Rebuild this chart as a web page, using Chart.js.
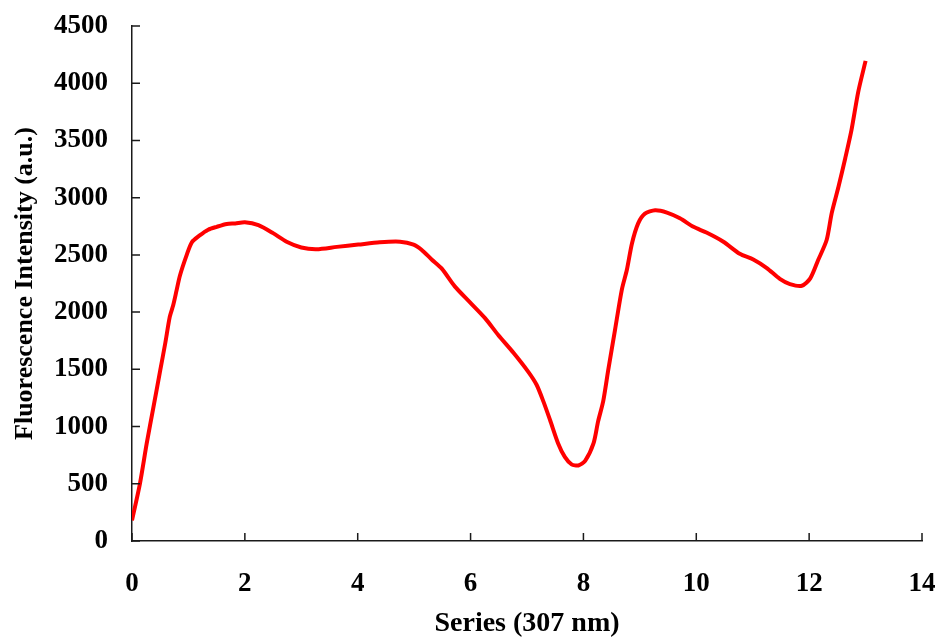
<!DOCTYPE html>
<html>
<head>
<meta charset="utf-8">
<script src="https://cdn.jsdelivr.net/npm/chart.js@4/dist/chart.umd.min.js"></script>
<style>
  body { margin: 0; background: #fff; }
  canvas { display: block; }
</style>
</head>
<body>
<canvas id="spectrumChart" width="943" height="638"></canvas>
<script>
// Fluorescence readings along the series (307 nm excitation)
const seriesX = [0, 0.14, 0.26, 0.38, 0.5, 0.59, 0.67, 0.73, 0.79, 0.85, 0.97, 1.06, 1.2, 1.35, 1.5, 1.68, 1.83, 2.0,
  2.24, 2.5, 2.74, 3.0, 3.27, 3.63, 4.01, 4.39, 4.75, 4.99, 5.13, 5.31, 5.49, 5.72, 5.99, 6.26, 6.49, 6.76, 7.02,
  7.17, 7.29, 7.41, 7.55, 7.67, 7.79, 7.91, 8.03, 8.18, 8.26, 8.35, 8.44, 8.56, 8.68, 8.77, 8.86, 8.97, 9.09, 9.27,
  9.48, 9.71, 9.95, 10.18, 10.48, 10.77, 11.01, 11.25, 11.48, 11.66, 11.87, 12.02, 12.16, 12.31, 12.4, 12.52,
  12.64, 12.75, 12.87, 13.0];
const intensity = [180, 500, 850, 1170, 1490, 1730, 1960, 2060, 2190, 2320, 2500, 2610, 2670, 2720, 2745, 2770, 2775, 2785,
  2760, 2690, 2615, 2565, 2550, 2570, 2590, 2610, 2615, 2590, 2545, 2460, 2380, 2225, 2085, 1945, 1800, 1645, 1480,
  1365, 1220, 1055, 855, 735, 670, 660, 700, 855, 1045, 1220, 1495, 1845, 2195, 2370, 2600, 2775, 2860, 2890,
  2870, 2820, 2745, 2695, 2615, 2510, 2460, 2385, 2290, 2245, 2230, 2295, 2455, 2630, 2865, 3095, 3345,
  3590, 3925, 4195];

const xTicks = [0, 2, 4, 6, 8, 10, 12, 14];
const yTicks = [0, 500, 1000, 1500, 2000, 2500, 3000, 3500, 4000, 4500];

const points = seriesX.map((x, i) => ({ x: x, y: intensity[i] }));

const serif = "'Liberation Serif', 'Times New Roman', serif";
const axisColor = '#1a1a1a';

// tick marks pointing into the plot area
const innerTicks = {
  id: 'innerTicks',
  afterDraw(chart) {
    const ctx = chart.ctx;
    const xs = chart.scales.x, ys = chart.scales.y;
    const area = chart.chartArea;
    ctx.save();
    ctx.strokeStyle = axisColor;
    ctx.lineWidth = 1.5;
    ctx.beginPath();
    xs.ticks.forEach(t => {
      const px = xs.getPixelForValue(t.value);
      ctx.moveTo(px, area.bottom);
      ctx.lineTo(px, area.bottom - 8);
    });
    ys.ticks.forEach(t => {
      const py = ys.getPixelForValue(t.value);
      ctx.moveTo(area.left, py);
      ctx.lineTo(area.left + 8, py);
    });
    ctx.stroke();
    ctx.restore();
  }
};

new Chart(document.getElementById('spectrumChart').getContext('2d'), {
  type: 'line',
  data: {
    datasets: [{
      data: points,
      borderColor: '#ff0000',
      borderWidth: 4,
      pointRadius: 0,
      tension: 0.25,
      fill: false
    }]
  },
  options: {
    responsive: false,
    animation: false,
    layout: { padding: { top: 26, right: 21, left: 0, bottom: 0 } },
    plugins: {
      legend: { display: false },
      tooltip: { enabled: false }
    },
    scales: {
      x: {
        type: 'linear',
        min: 0,
        max: 14,
        afterFit: s => {
          s.height = 97;
          s.paddingLeft = 0;
          s.paddingRight = 0;
        },
        afterBuildTicks: s => { s.ticks = xTicks.map(v => ({ value: v })); },
        grid: { display: false, drawTicks: false },
        border: { display: true, color: axisColor, width: 1.5 },
        ticks: {
          color: '#000',
          padding: 27,
          maxRotation: 0,
          callback: v => String(v),
          font: { family: serif, size: 27, weight: 'bold' }
        },
        title: {
          display: true,
          text: 'Series (307 nm)',
          color: '#000',
          padding: { top: 0, bottom: -3 },
          font: { family: serif, size: 28, weight: 'bold' }
        }
      },
      y: {
        min: 0,
        max: 4500,
        afterFit: s => {
          s.width = 132;
          s.paddingTop = 0;
          s.paddingBottom = 0;
        },
        afterBuildTicks: s => { s.ticks = yTicks.map(v => ({ value: v })); },
        grid: { display: false, drawTicks: false },
        border: { display: true, color: axisColor, width: 1.5 },
        ticks: {
          color: '#000',
          padding: 24,
          callback: v => String(v),
          font: { family: serif, size: 27, weight: 'bold' }
        },
        title: {
          display: true,
          text: 'Fluorescence Intensity (a.u.)',
          color: '#000',
          padding: { top: 10, bottom: 0 },
          font: { family: serif, size: 26, weight: 'bold' }
        }
      }
    }
  },
  plugins: [innerTicks]
});
</script>
</body>
</html>
